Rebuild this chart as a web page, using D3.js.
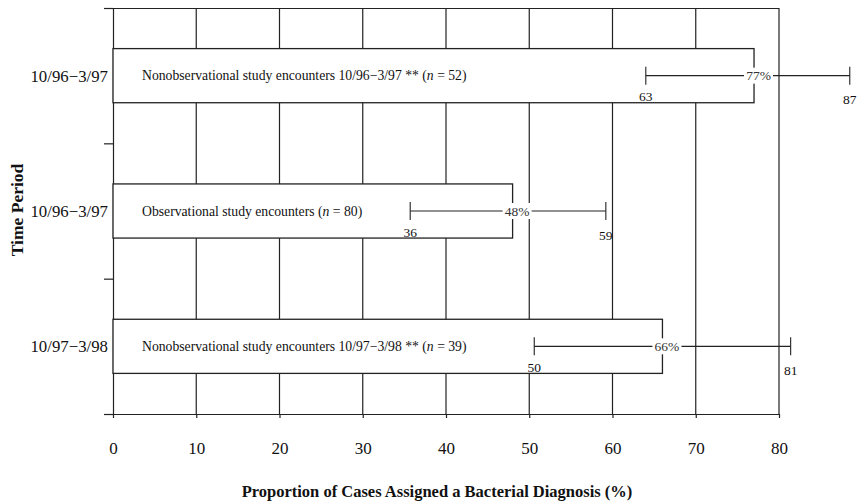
<!DOCTYPE html>
<html>
<head>
<meta charset="utf-8">
<script src="https://cdn.jsdelivr.net/npm/d3@7"></script>
<style>
  body { margin: 0; background: #fff; }
  svg { font-family: "Liberation Serif", "DejaVu Serif", serif; }
  .grid line { stroke: #222; stroke-width: 1.2; }
  .axis path, .axis line { stroke: #222; stroke-width: 1.2; }
  .axis text { fill: #111; font-size: 17px; font-family: "Liberation Serif", serif; }
  .bar { fill: #fff; stroke: #222; stroke-width: 1.3; }
  .ci line { stroke: #222; stroke-width: 1.1; }
</style>
</head>
<body>
<svg id="chart" width="863" height="501"></svg>
<script>
// time periods, top to bottom
const periods = ['10/96\u22123/97', '10/96\u22123/97', '10/97\u22123/98'];
const barLabels = [
    ['Nonobservational study encounters 10/96\u22123/97 ** (', 'n', ' = 52)'],
    ['Observational study encounters (', 'n', ' = 80)'],
    ['Nonobservational study encounters 10/97\u22123/98 ** (', 'n', ' = 39)']
];
const pct = [77, 48, 66];
// interval ends as placed in the picture, and the numbers printed under them
const ciLow = [64, 35.7, 50.6];
const ciHigh = [88.5, 59.2, 81.4];
const ciLowText = ['63', '36', '50'];
const ciHighText = ['87', '59', '81'];
const xTicks = [0, 10, 20, 30, 40, 50, 60, 70, 80];

const svg = d3.select('#chart');
const plotLeft = 113, plotRight = 779, plotTop = 8, plotBottom = 414;

const x = d3.scaleLinear().domain([0, 80]).range([plotLeft, plotRight]);
const y = d3.scaleBand().domain(d3.range(periods.length)).range([plotTop, plotBottom])
    .paddingInner(0.6).paddingOuter(0.3);
const yEdge = d3.scaleLinear().domain([0, periods.length]).range([plotTop, plotBottom]);

// vertical grid lines
svg.append('g')
    .attr('class', 'grid')
    .selectAll('line')
    .data(xTicks.slice(1))
    .enter().append('line')
    .attr('x1', d => x(d)).attr('x2', d => x(d))
    .attr('y1', plotTop).attr('y2', plotBottom);

// top border
svg.append('line')
    .attr('x1', plotLeft - 9).attr('x2', plotRight)
    .attr('y1', plotTop + 0.5).attr('y2', plotTop + 0.5)
    .attr('stroke', '#222').attr('stroke-width', 1.2);

// axes
svg.append('g')
    .attr('class', 'axis')
    .attr('transform', 'translate(0,' + plotBottom + ')')
    .call(d3.axisBottom(x).tickValues(xTicks).tickSize(4).tickSizeOuter(0).tickPadding(24))
    .call(g => g.select('.domain').attr('d', 'M' + (plotLeft - 9) + ',0.5H' + plotRight));

svg.append('g')
    .attr('class', 'axis')
    .attr('transform', 'translate(' + plotLeft + ',0)')
    .call(d3.axisLeft(yEdge).tickValues(d3.range(periods.length + 1)).tickSize(9)
        .tickSizeOuter(0).tickFormat(''));

// period labels
svg.append('g')
    .selectAll('text')
    .data(periods)
    .enter().append('text')
    .attr('x', plotLeft - 5)
    .attr('y', (d, i) => y(i) + y.bandwidth() / 2)
    .attr('dy', '0.35em')
    .attr('text-anchor', 'end')
    .attr('font-size', 16.8)
    .attr('fill', '#111')
    .text(d => d);

// bars
svg.append('g')
    .selectAll('rect')
    .data(pct)
    .enter().append('rect')
    .attr('class', 'bar')
    .attr('x', x(0))
    .attr('y', (d, i) => y(i))
    .attr('width', d => x(d) - x(0))
    .attr('height', y.bandwidth());

// text inside bars
const labels = svg.append('g')
    .selectAll('text')
    .data(barLabels)
    .enter().append('text')
    .attr('x', plotLeft + 29)
    .attr('y', (d, i) => y(i) + y.bandwidth() / 2)
    .attr('dy', '0.35em')
    .attr('font-size', 13.7)
    .attr('fill', '#111');
labels.append('tspan').text(d => d[0]);
labels.append('tspan').attr('font-style', 'italic').text(d => d[1]);
labels.append('tspan').text(d => d[2]);

// confidence intervals
const ci = svg.append('g').attr('class', 'ci')
    .selectAll('g')
    .data(pct)
    .enter().append('g')
    .attr('transform', (d, i) => 'translate(0,' + (y(i) + y.bandwidth() / 2) + ')');

ci.append('line')
    .attr('x1', (d, i) => x(ciLow[i])).attr('x2', (d, i) => x(ciHigh[i]))
    .attr('y1', 0).attr('y2', 0);
ci.append('line')
    .attr('x1', (d, i) => x(ciLow[i])).attr('x2', (d, i) => x(ciLow[i]))
    .attr('y1', -9).attr('y2', 9);
ci.append('line')
    .attr('x1', (d, i) => x(ciHigh[i])).attr('x2', (d, i) => x(ciHigh[i]))
    .attr('y1', -9).attr('y2', 9);

ci.append('text')
    .attr('x', (d, i) => x(ciLow[i]))
    .attr('y', 21)
    .attr('dy', '0.35em')
    .attr('text-anchor', 'middle')
    .attr('font-size', 13.5)
    .attr('fill', '#111')
    .text((d, i) => ciLowText[i]);
ci.append('text')
    .attr('x', (d, i) => x(ciHigh[i]))
    .attr('y', 24)
    .attr('dy', '0.35em')
    .attr('text-anchor', 'middle')
    .attr('font-size', 13.5)
    .attr('fill', '#111')
    .text((d, i) => ciHighText[i]);

// point estimate, on a white patch just right of the bar end
ci.append('rect')
    .attr('x', d => x(d) - 10)
    .attr('y', -8)
    .attr('width', 29)
    .attr('height', 16)
    .attr('fill', '#fff');
ci.append('text')
    .attr('x', d => x(d) + 4.5)
    .attr('y', 0)
    .attr('dy', '0.35em')
    .attr('text-anchor', 'middle')
    .attr('font-size', 13.5)
    .attr('fill', '#333')
    .text(d => d + '%');

// axis titles
svg.append('text')
    .attr('x', 437)
    .attr('y', 491)
    .attr('dy', '0.35em')
    .attr('text-anchor', 'middle')
    .attr('font-size', 16.5)
    .attr('font-weight', 'bold')
    .attr('fill', '#111')
    .text('Proportion of Cases Assigned a Bacterial Diagnosis (%)');

svg.append('text')
    .attr('transform', 'translate(17,' + 210 + ') rotate(-90)')
    .attr('dy', '0.35em')
    .attr('text-anchor', 'middle')
    .attr('font-size', 17.5)
    .attr('font-weight', 'bold')
    .attr('fill', '#111')
    .text('Time Period');
</script>
</body>
</html>
